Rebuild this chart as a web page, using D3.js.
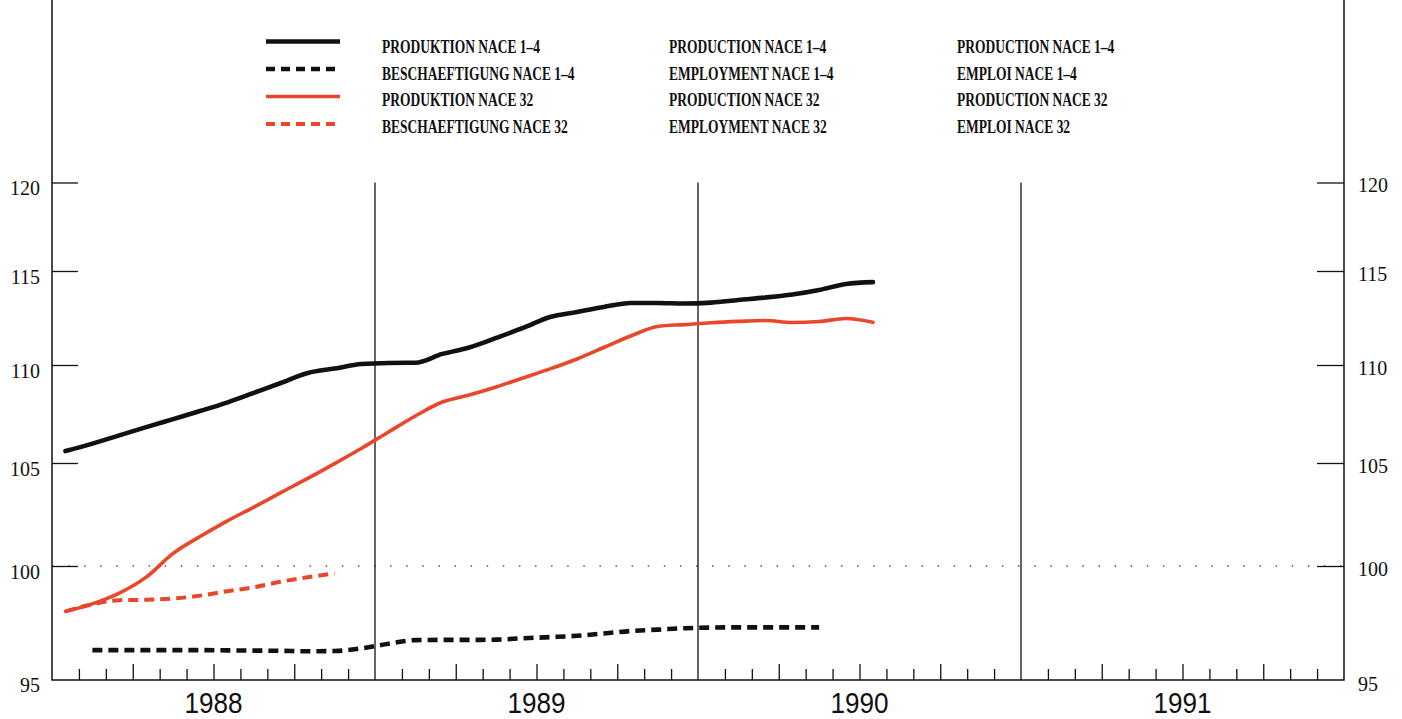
<!DOCTYPE html>
<html>
<head>
<meta charset="utf-8">
<script src="https://cdn.jsdelivr.net/npm/d3@7"></script>
<style>
  html, body { margin: 0; padding: 0; background: #fff; }
  svg { display: block; }
</style>
</head>
<body>
<div id="chart"></div>
<script>
// monthly index values, Jan 1988 = month 0
const years = ["1988", "1989", "1990", "1991"]
const yTicks = [95, 100, 105, 110, 115, 120]

const prodNace14 = [105.61, 105.99, 106.41, 106.83, 107.24, 107.65, 108.08, 108.58, 109.08, 109.59, 109.82, 110.05,
  110.11, 110.12, 110.59, 110.93, 111.44, 111.97, 112.55, 112.82, 113.09, 113.30, 113.30, 113.27,
  113.32, 113.46, 113.59, 113.75, 113.99, 114.31, 114.41]
const empNace14 = [96.31, 96.31, 96.31, 96.31, 96.31, 96.30, 96.29, 96.28, 96.26, 96.27, 96.39,
  96.59, 96.75, 96.76, 96.76, 96.77, 96.83, 96.88, 96.94, 97.04, 97.15, 97.21, 97.27,
  97.30, 97.31, 97.31, 97.31, 97.31]   // starts Feb 1988
const prodNace32 = [98.01, 98.34, 98.81, 99.51, 100.61, 101.43, 102.18, 102.86, 103.56, 104.25, 104.97, 105.75,
  106.58, 107.40, 108.11, 108.47, 108.88, 109.34, 109.80, 110.32, 110.93, 111.54, 112.05, 112.15,
  112.25, 112.32, 112.37, 112.26, 112.31, 112.47, 112.27]
const empNace32 = [98.01, 98.32, 98.50, 98.52, 98.57, 98.70, 98.89, 99.07, 99.31, 99.51, 99.67]

const labelsDe = ["PRODUKTION NACE 1–4", "BESCHAEFTIGUNG NACE 1–4", "PRODUKTION NACE 32", "BESCHAEFTIGUNG NACE 32"]
const labelsEn = ["PRODUCTION NACE 1–4", "EMPLOYMENT NACE 1–4", "PRODUCTION NACE 32", "EMPLOYMENT NACE 32"]
const labelsFr = ["PRODUCTION NACE 1–4", "EMPLOI NACE 1–4", "PRODUCTION NACE 32", "EMPLOI NACE 32"]

const RED = "#e8472c"
const series = [
  {values: prodNace14, start: 0, color: "#111", width: 4.6, dash: null},
  {values: empNace14, start: 1, color: "#111", width: 4.6, dash: "10,6"},
  {values: prodNace32, start: 0, color: RED, width: 3.6, dash: null},
  {values: empNace32, start: 0, color: RED, width: 4, dash: "10,6"}
]

const W = 1402, H = 719
const mLeft = 52, mRight = 1344, mBottom = 680, mTop = 182.5

const svg = d3.select("#chart").append("svg")
  .attr("width", W).attr("height", H)
  .style("font-family", "'Liberation Serif', serif")

const x = d3.scaleLinear().domain([0, 48]).range([mLeft, mRight])
// axis of the scan is slightly compressed toward the top (log-like), map it tick by tick
const y = d3.scaleLinear().domain(yTicks).range([680, 566, 463, 365, 271, mTop])

// dotted 100 reference line
svg.append("line")
  .attr("x1", mLeft).attr("x2", mRight)
  .attr("y1", y(100)).attr("y2", y(100))
  .attr("stroke", "#555").attr("stroke-width", 1.4)
  .attr("stroke-dasharray", "1.5,14.6")

// year separators
svg.selectAll(".yearline")
  .data(d3.range(1, years.length))
  .enter().append("line")
  .attr("x1", d => x(d * 12)).attr("x2", d => x(d * 12))
  .attr("y1", mTop).attr("y2", mBottom)
  .attr("stroke", "#111").attr("stroke-width", 1.3)

// left axis, ticks pointing inward
const leftAxis = svg.append("g")
  .attr("transform", `translate(${mLeft},0)`)
  .call(d3.axisRight(y).tickValues(yTicks.slice(1)).tickSize(26).tickFormat(d3.format("d")))
leftAxis.select(".domain").remove()
leftAxis.selectAll("text").attr("x", -12).attr("dy", "0.72em").attr("y", -2)
  .attr("text-anchor", "end")
const rightAxis = svg.append("g")
  .attr("transform", `translate(${mRight},0)`)
  .call(d3.axisLeft(y).tickValues(yTicks.slice(1)).tickSize(27).tickFormat(d3.format("d")))
rightAxis.select(".domain").remove()
rightAxis.selectAll("text").attr("x", 14).attr("dy", "0.72em").attr("y", -5)
  .attr("text-anchor", "start")
svg.selectAll(".tick line").attr("stroke", "#111").attr("stroke-width", 1.3)
svg.selectAll(".tick text").attr("fill", "#111").style("font-size", "20px")
  .style("font-family", "'Liberation Serif', serif")

// 95 labels sit on the bottom frame
svg.append("text").attr("x", 40).attr("y", y(95) + 12).attr("text-anchor", "end")
  .style("font-size", "20px").attr("fill", "#111").text(yTicks[0])
svg.append("text").attr("x", mRight + 14).attr("y", y(95) + 11).attr("text-anchor", "start")
  .style("font-size", "20px").attr("fill", "#111").text(yTicks[0])

// frame
svg.append("path")
  .attr("d", `M${mLeft},0V${mBottom}H${mRight}V0`)
  .attr("fill", "none").attr("stroke", "#111").attr("stroke-width", 1.5)

// month ticks on the bottom
const monthTicks = d3.range(1, 48).filter(m => m % 12 !== 0)
const bottomAxis = svg.append("g")
  .attr("transform", `translate(0,${mBottom})`)
  .call(d3.axisTop(x).tickValues(monthTicks).tickSize(11).tickFormat(""))
bottomAxis.select(".domain").remove()
bottomAxis.selectAll(".tick line")
  .attr("y2", d => d % 3 === 0 ? -16 : -11)
  .attr("stroke", "#111").attr("stroke-width", 1.3)

svg.selectAll(".year")
  .data(years)
  .enter().append("text")
  .attr("transform", (d, i) => `translate(${x(i * 12 + 6)},713) scale(0.87,1)`)
  .attr("text-anchor", "middle")
  .style("font-family", "'Liberation Sans', sans-serif")
  .style("font-size", "30px")
  .attr("fill", "#111")
  .text(d => d)

// series lines
const line = d3.line()
  .x(d => x(d.m + 0.5))
  .y(d => y(d.v))
  .curve(d3.curveMonotoneX)

series.forEach(s => {
  const pts = s.values.map((v, i) => ({m: s.start + i, v: v}))
  svg.append("path")
    .datum(pts)
    .attr("d", line)
    .attr("fill", "none")
    .attr("stroke", s.color)
    .attr("stroke-width", s.width)
    .attr("stroke-dasharray", s.dash)
    .attr("stroke-linecap", s.dash ? "butt" : "round")
    .attr("stroke-linejoin", "round")
})

// legend
const legend = svg.append("g")
series.forEach((s, i) => {
  const ly = 41.5 + i * 27.5
  legend.append("line")
    .attr("x1", 266).attr("x2", 340)
    .attr("y1", ly).attr("y2", ly)
    .attr("stroke", s.color)
    .attr("stroke-width", s.width)
    .attr("stroke-dasharray", s.dash ? "9,6" : null)
})
const cols = [[labelsDe, 382], [labelsEn, 669], [labelsFr, 957]]
cols.forEach(([labels, cx]) => {
  labels.forEach((t, i) => {
    legend.append("text")
      .attr("transform", `translate(${cx},${53 + i * 26.6}) scale(0.75,1)`)
      .style("font-family", "'Liberation Serif', serif")
      .style("font-weight", "bold")
      .style("font-size", "18px")
      .attr("fill", "#111")
      .text(t)
  })
})
</script>
</body>
</html>
